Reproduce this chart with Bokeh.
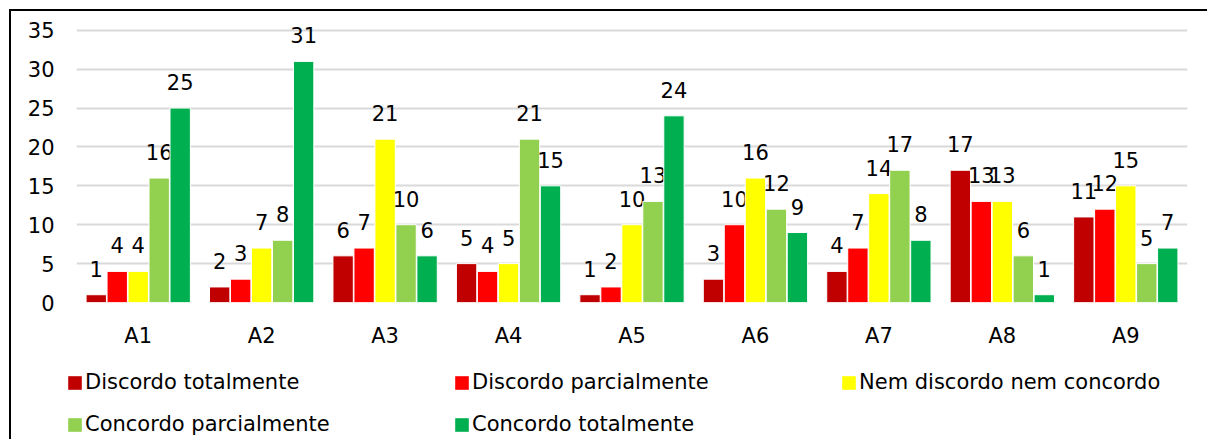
from bokeh.plotting import figure
from bokeh.layouts import column
from bokeh.models import ColumnDataSource, FactorRange, Range1d, Legend, LegendItem, SingleIntervalTicker
from bokeh.transform import dodge
from bokeh.embed import file_html
from bokeh.resources import INLINE
from bokeh.core.properties import value

categories = ["A1", "A2", "A3", "A4", "A5", "A6", "A7", "A8", "A9"]
series_names = ["Discordo totalmente", "Discordo parcialmente", "Nem discordo nem concordo",
                "Concordo parcialmente", "Concordo totalmente"]
discordo_totalmente = [1, 2, 6, 5, 1, 3, 4, 17, 11]
discordo_parcialmente = [4, 3, 7, 4, 2, 10, 7, 13, 12]
nem_discordo_nem_concordo = [4, 7, 21, 5, 10, 16, 14, 13, 15]
concordo_parcialmente = [16, 8, 10, 21, 13, 12, 17, 6, 5]
concordo_totalmente = [25, 31, 6, 15, 24, 9, 8, 1, 7]
y_ticks_step = 5

series_values = [discordo_totalmente, discordo_parcialmente, nem_discordo_nem_concordo,
                 concordo_parcialmente, concordo_totalmente]
colors = ["#C00000", "#FF0000", "#FFFF00", "#92D050", "#00B050"]
offsets = [-0.34, -0.17, 0.0, 0.17, 0.34]

FONT = "DejaVu Sans"
FS = "21px"

# main chart (range extends slightly above 35 so the top label is not clipped)
p = figure(width=1196, height=339, x_range=FactorRange(*categories), y_range=Range1d(0, 36),
           output_backend="svg", toolbar_location=None,
           min_border_left=65, min_border_right=20, min_border_top=11, min_border_bottom=48)
p.outline_line_color = None
p.background_fill_color = "white"
p.border_fill_color = "white"

data = {"cat": categories}
for i, vals in enumerate(series_values):
    data[f"s{i}"] = vals
    data[f"l{i}"] = [str(v) for v in vals]
src = ColumnDataSource(data)

for i, name in enumerate(series_names):
    p.vbar(x=dodge("cat", offsets[i], range=p.x_range), top=f"s{i}", width=0.165,
           source=src, fill_color=colors[i], line_color="white", line_width=1)
    p.text(x=dodge("cat", offsets[i], range=p.x_range), y=f"s{i}", text=f"l{i}", source=src,
           text_align="center", text_baseline="alphabetic", y_offset=-26,
           text_font=value(FONT), text_font_size=FS, text_color="black")

p.yaxis.ticker = SingleIntervalTicker(interval=y_ticks_step)
for ax in (p.xaxis[0], p.yaxis[0]):
    ax.axis_line_color = None
    ax.major_tick_line_color = None
    ax.minor_tick_line_color = None
    ax.major_tick_out = 0
    ax.major_tick_in = 0
    ax.major_label_text_font = FONT
    ax.major_label_text_font_size = FS
    ax.major_label_text_color = "black"
p.yaxis.major_label_standoff = 18
p.xaxis.major_label_standoff = 21
p.xgrid.grid_line_color = None
p.ygrid.grid_line_color = "#D9D9D9"
p.ygrid.grid_line_width = 2

# legend strip
leg = figure(width=1196, height=100, x_range=Range1d(0, 1), y_range=Range1d(0, 1),
             output_backend="svg", toolbar_location=None, x_axis_type=None, y_axis_type=None,
             min_border_left=0, min_border_right=0, min_border_top=0, min_border_bottom=0)
if "frame_align" in leg.properties():
    leg.frame_align = False
    p.frame_align = False
leg.outline_line_color = None
leg.xgrid.grid_line_color = None
leg.ygrid.grid_line_color = None
leg.border_fill_color = "white"

items = []
for i, name in enumerate(series_names):
    r = leg.vbar(x=[5], top=[5], width=0.1, fill_color=colors[i], line_color=None)
    items.append(LegendItem(label=name, renderers=[r]))

legend = Legend(items=items, orientation="horizontal", ncols=3, location=(55, 6),
                glyph_width=17, glyph_height=17, label_standoff=2, label_width=366,
                label_height=40, spacing=2, padding=0, margin=0,
                label_text_font=FONT, label_text_font_size=FS, label_text_color="black",
                border_line_color=None, background_fill_alpha=0)
leg.add_layout(legend, "center")

layout = column(p, leg, spacing=0)
layout.margin = (9, 0, 0, 9)
layout.styles = {"border-left": "2px solid black", "border-top": "2px solid black"}

open("out.html", "w").write(file_html(layout, INLINE))
